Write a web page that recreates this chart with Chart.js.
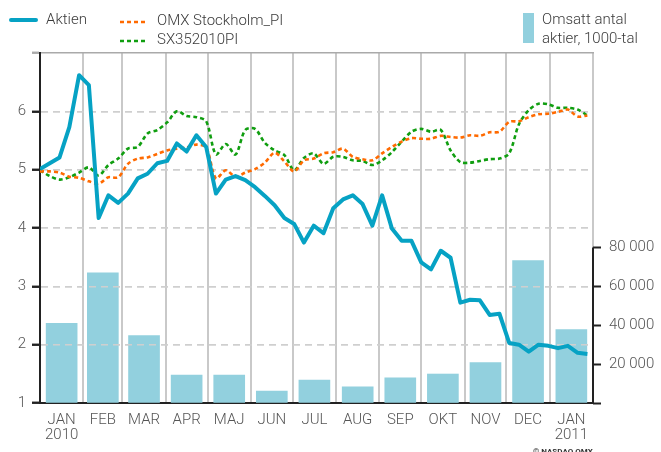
<!DOCTYPE html>
<html>
<head>
<meta charset="utf-8">
<script src="https://cdn.jsdelivr.net/npm/chart.js@4/dist/chart.umd.min.js"></script>
<style>
body { margin: 0; background: #fff; }
#wrap { position: relative; width: 661px; height: 452px; overflow: hidden; font-family: Roboto, "Liberation Sans", sans-serif; font-weight: 300; color: #3a3a3a; }
#wrap canvas { position: absolute; left: 0; top: 0; }
.lg { position: absolute; font-size: 15px; line-height: 18px; white-space: nowrap; }
.key { position: absolute; }
#copy { position: absolute; left: 533px; top: 448px; font-size: 8px; line-height: 8px; font-weight: 700; color: #333; white-space: nowrap; }
</style>
</head>
<body>
<div id="wrap">
  <canvas id="chart" width="661" height="452"></canvas>

  <svg class="key" style="left:8px;top:15px" width="32" height="10"><line x1="3" y1="5" x2="28" y2="5" stroke="#06a2c4" stroke-width="4" stroke-linecap="round"/></svg>
  <div class="lg" style="left:46px;top:10px">Aktien</div>

  <svg class="key" style="left:120px;top:17px" width="28" height="10"><line x1="0" y1="5" x2="27" y2="5" stroke="#ff6a00" stroke-width="2.6" stroke-dasharray="4 3"/></svg>
  <div class="lg" style="left:157px;top:11px">OMX Stockholm_PI</div>

  <svg class="key" style="left:120px;top:36px" width="28" height="10"><line x1="0" y1="5" x2="27" y2="5" stroke="#109e10" stroke-width="2.6" stroke-dasharray="4 3"/></svg>
  <div class="lg" style="left:157px;top:30px">SX352010PI</div>

  <div class="key" style="left:523px;top:13px;width:11px;height:30px;background:#92d0de"></div>
  <div class="lg" style="left:542px;top:10px;line-height:18.5px">Omsatt antal<br>aktier, 1000-tal</div>

  <div id="copy">© NASDAQ OMX</div>
</div>
<script>
// månader (kategorier) och omsättning per månad
const months = [['JAN', '2010'], 'FEB', 'MAR', 'APR', 'MAJ', 'JUN', 'JUL', 'AUG', 'SEP', 'OKT', 'NOV', 'DEC', ['JAN', '2011']];
const volume = [41000, 67000, 34700, 14400, 14400, 6100, 11800, 8300, 13000, 14900, 20800, 73200, 37800];

// veckovärden från 1 jan 2010
const aktien = [5.01, 5.11, 5.21, 5.73, 6.62, 6.45, 4.17, 4.56, 4.43, 4.59, 4.85, 4.93, 5.11, 5.15, 5.45, 5.31,
  5.59, 5.39, 4.59, 4.83, 4.89, 4.82, 4.70, 4.55, 4.39, 4.17, 4.07, 3.75, 4.04, 3.91, 4.34, 4.49,
  4.56, 4.41, 4.04, 4.56, 3.99, 3.78, 3.78, 3.41, 3.29, 3.61, 3.49, 2.72, 2.77, 2.76, 2.51, 2.53,
  2.03, 2.00, 1.88, 2.00, 1.98, 1.94, 1.98, 1.86, 1.84];
const omx = [4.97, 4.97, 4.95, 4.88, 4.86, 4.80, 4.76, 4.87, 4.87, 5.10, 5.19, 5.21, 5.27, 5.33, 5.36, 5.38,
  5.43, 5.38, 4.85, 4.99, 4.88, 4.95, 5.01, 5.12, 5.29, 5.14, 4.97, 5.16, 5.19, 5.28, 5.30, 5.36,
  5.22, 5.18, 5.16, 5.28, 5.39, 5.48, 5.54, 5.53, 5.53, 5.58, 5.56, 5.55, 5.59, 5.58, 5.64, 5.65,
  5.82, 5.83, 5.90, 5.95, 5.96, 5.99, 6.03, 5.91, 5.93];
const sx = [4.99, 4.89, 4.83, 4.87, 4.95, 5.04, 4.90, 5.08, 5.19, 5.36, 5.39, 5.62, 5.68, 5.81, 6.00, 5.92,
  5.90, 5.83, 5.26, 5.44, 5.26, 5.68, 5.70, 5.46, 5.33, 5.25, 4.99, 5.20, 5.28, 5.10, 5.22, 5.22,
  5.16, 5.15, 5.08, 5.16, 5.30, 5.48, 5.65, 5.70, 5.65, 5.68, 5.33, 5.13, 5.12, 5.15, 5.18, 5.19,
  5.28, 5.78, 6.02, 6.13, 6.12, 6.06, 6.06, 6.03, 5.93];

const leftTicks = [1, 2, 3, 4, 5, 6];
const rightTicks = [20000, 40000, 60000, 80000];

// dagar sedan 1 jan 2010
const DAY = 86400000;
const t0 = Date.UTC(2010, 0, 1);
const monthEdges = [];
for (let i = 0; i <= months.length; i++) monthEdges.push((Date.UTC(2010, i, 1) - t0) / DAY);
const monthMids = months.map((m, i) => (monthEdges[i] + monthEdges[i + 1]) / 2);
const xMax = monthEdges[monthEdges.length - 1];
const weekly = arr => arr.map((v, i) => ({ x: i * 7, y: v }));

const font = { family: 'Roboto, "Liberation Sans", sans-serif', size: 15, weight: '300', lineHeight: 1.0 };
const textColor = '#555';

// streckade y-linjer ovanpå staplarna men under kurvorna
const gridOverBars = {
  id: 'gridOverBars',
  afterDatasetDraw(chart, args) {
    if (args.meta.type === 'bar') chart.scales.y.drawGrid(chart.chartArea);
  }
};
// mörk del av högeraxeln (0 - 80 000)
const rightAxisLine = {
  id: 'rightAxisLine',
  afterDraw(chart) {
    const { ctx, chartArea, scales } = chart;
    ctx.save();
    ctx.strokeStyle = '#222';
    ctx.lineWidth = 2;
    ctx.beginPath();
    ctx.moveTo(chartArea.right, scales.y1.getPixelForValue(80000));
    ctx.lineTo(chartArea.right, chartArea.bottom + 1);
    ctx.stroke();
    ctx.restore();
  }
};

new Chart(document.getElementById('chart'), {
  type: 'line',
  data: {
    datasets: [{
      label: 'Aktien',
      data: weekly(aktien),
      borderColor: '#06a2c4',
      borderWidth: 4,
      borderJoinStyle: 'round',
      pointRadius: 0,
      yAxisID: 'y',
      order: 0
    }, {
      label: 'OMX Stockholm_PI',
      data: weekly(omx),
      borderColor: '#ff6a00',
      borderWidth: 2.6,
      borderDash: [4, 3],
      tension: 0.3,
      pointRadius: 0,
      yAxisID: 'y',
      order: 1
    }, {
      label: 'SX352010PI',
      data: weekly(sx),
      borderColor: '#109e10',
      borderWidth: 2.6,
      borderDash: [4, 3],
      tension: 0.3,
      pointRadius: 0,
      yAxisID: 'y',
      order: 2
    }, {
      type: 'bar',
      label: 'Omsatt antal aktier, 1000-tal',
      data: monthMids.map((x, i) => ({ x: x, y: volume[i] })),
      backgroundColor: '#92d0de',
      barThickness: 31,
      yAxisID: 'y1',
      order: 3
    }]
  },
  options: {
    responsive: false,
    animation: false,
    layout: { padding: { top: 53, left: 0, right: 0, bottom: 0 } },
    plugins: { legend: { display: false }, tooltip: { enabled: false } },
    scales: {
      x: {
        type: 'linear', min: 0, max: xMax, offset: false,
        afterBuildTicks: s => { s.ticks = monthEdges.map(v => ({ value: v })); },
        ticks: { display: false },
        grid: { color: '#c9c9c9', lineWidth: 2, drawTicks: false, offset: false },
        border: { color: '#222', width: 2 },
        afterFit: s => { s.height = 0; }
      },
      x2: {
        type: 'linear', position: 'bottom', min: 0, max: xMax, offset: false,
        afterBuildTicks: s => { s.ticks = monthMids.map(v => ({ value: v })); },
        ticks: {
          autoSkip: false, maxRotation: 0, padding: 2, color: textColor, font: font,
          callback: (v, i) => months[i]
        },
        grid: { display: false },
        border: { display: false },
        afterFit: s => { s.height = 49; }
      },
      xTop: {
        type: 'linear', position: 'top', min: 0, max: xMax,
        ticks: { display: false },
        grid: { display: false },
        border: { color: '#aaa', width: 1.5 },
        afterFit: s => { s.height = 0; }
      },
      y: {
        min: 1, max: 7,
        afterBuildTicks: s => { s.ticks = [1, 2, 3, 4, 5, 6, 7].map(v => ({ value: v })); },
        ticks: {
          padding: 6, color: textColor, font: font,
          callback: v => leftTicks.includes(v) ? String(v) : ''
        },
        grid: {
          color: c => (c.tick && (c.tick.value === 1 || c.tick.value === 7)) ? 'rgba(0,0,0,0)' : '#cfcfcf',
          lineWidth: 1.5,
          tickLength: 8,
          tickWidth: 2,
          tickColor: c => (c.tick && c.tick.value === 7) ? '#aaa' : '#222'
        },
        border: { color: '#222', width: 2, dash: [7, 5] },
        afterFit: s => { s.width = 40; }
      },
      y1: {
        position: 'right', min: 0, max: 180000,
        afterBuildTicks: s => {
          const t = [];
          for (let v = 0; v <= 180000; v += 20000) t.push({ value: v });
          s.ticks = t;
        },
        ticks: {
          padding: 8, color: textColor, font: font,
          callback: v => rightTicks.includes(v) ? (v / 1000) + ' 000' : ''
        },
        grid: {
          drawOnChartArea: false,
          tickLength: 8,
          tickWidth: 2,
          tickColor: c => (c.tick && c.tick.value <= 80000) ? '#222' : 'rgba(0,0,0,0)'
        },
        border: { display: false },
        afterFit: s => { s.width = 68; }
      }
    }
  },
  plugins: [gridOverBars, rightAxisLine]
});
</script>
</body>
</html>
